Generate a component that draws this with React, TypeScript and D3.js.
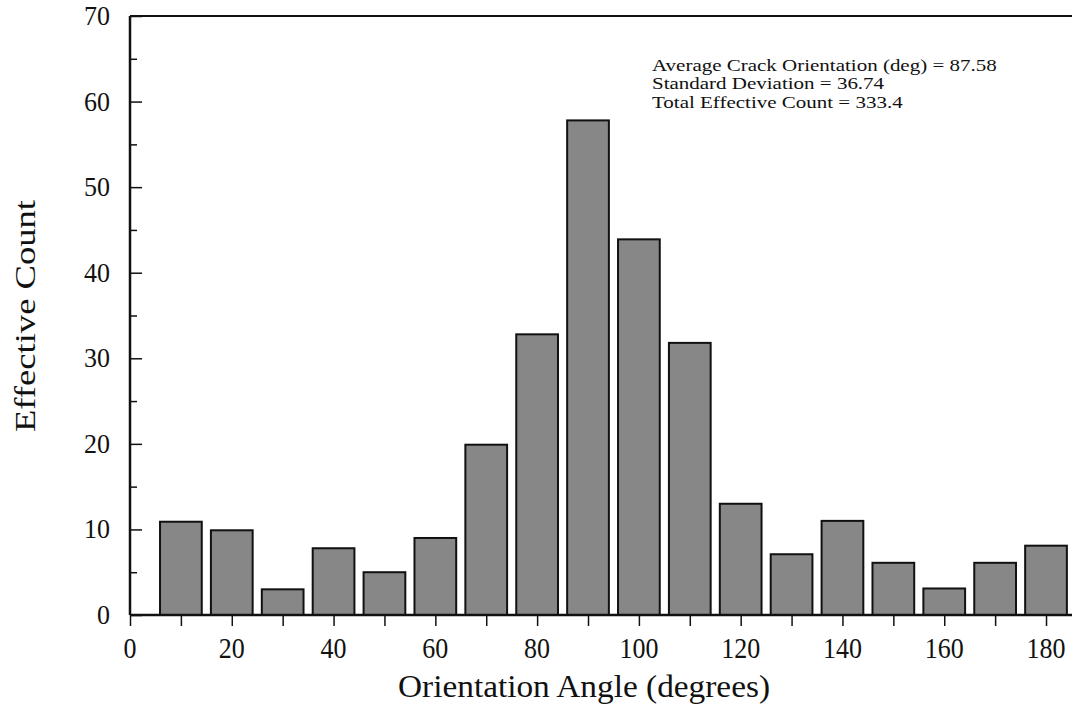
import React, { useRef, useEffect } from 'react';
import * as d3 from 'd3';

const angles = [10, 20, 30, 40, 50, 60, 70, 80, 90, 100, 110, 120, 130, 140, 150, 160, 170, 180];
const counts = [10.9, 9.9, 3.0, 7.8, 5.0, 9.0, 19.9, 32.8, 57.8, 43.9, 31.8, 13.0, 7.1, 11.0, 6.1, 3.1, 6.1, 8.1];
const xTickLabels = [0, 20, 40, 60, 80, 100, 120, 140, 160, 180];
const yTickLabels = [0, 10, 20, 30, 40, 50, 60, 70];
const statLines = [
  'Average Crack Orientation (deg) = 87.58',
  'Standard Deviation = 36.74',
  'Total Effective Count = 333.4',
];

const W = 1072;
const H = 715;
const font = '"Liberation Serif", "Times New Roman", serif';

const App: React.FC = () => {
  const ref = useRef<SVGSVGElement>(null);

  useEffect(() => {
    const svg = d3.select(ref.current);
    svg.selectAll('*').remove();

    const x = d3.scaleLinear().domain([0, 186]).range([130, 130 + 186 * 5.089]);
    const y = d3.scaleLinear().domain([0, 70]).range([615, 16]);
    const halfW = 4.1; // half bar width in degrees

    // bars
    svg.append('g')
      .selectAll('rect')
      .data(angles.map((a, i) => ({ a, v: counts[i] })))
      .join('rect')
      .attr('x', d => x(d.a - halfW))
      .attr('y', d => y(d.v))
      .attr('width', x(2 * halfW) - x(0))
      .attr('height', d => y(0) - y(d.v))
      .attr('fill', '#878787')
      .attr('stroke', '#111')
      .attr('stroke-width', 2);

    // y axis, ticks inward
    const yAxis = d3.axisRight(y)
      .tickValues(d3.range(0, 71, 5))
      .tickSize(0)
      .tickFormat(() => '');
    const gy = svg.append('g').attr('transform', `translate(${x(0)},0)`).call(yAxis);
    gy.select('.domain').remove();
    gy.selectAll('.tick line')
      .attr('x2', (d: any) => (d % 10 === 0 ? 12 : 7))
      .attr('stroke', '#111')
      .attr('stroke-width', 1.5);
    svg.append('g')
      .selectAll('text')
      .data(yTickLabels)
      .join('text')
      .attr('transform', d => `translate(110,${y(d) + 9}) scale(1,1.08)`)
      .attr('text-anchor', 'end')
      .attr('font-family', font)
      .attr('font-size', 26)
      .attr('fill', '#111')
      .text(d => d);

    // x axis, ticks outward
    const xAxis = d3.axisBottom(x)
      .tickValues(d3.range(0, 181, 10))
      .tickSize(11)
      .tickFormat(() => '');
    const gx = svg.append('g').attr('transform', `translate(0,${y(0)})`).call(xAxis);
    gx.select('.domain').remove();
    gx.selectAll('.tick line').attr('stroke', '#111').attr('stroke-width', 1.5);
    svg.append('g')
      .selectAll('text')
      .data(xTickLabels)
      .join('text')
      .attr('transform', d => `translate(${x(d)},658) scale(1,1.12)`)
      .attr('text-anchor', 'middle')
      .attr('font-family', font)
      .attr('font-size', 26)
      .attr('fill', '#111')
      .text(d => d);

    // frame lines
    svg.append('line')
      .attr('x1', x(0)).attr('x2', W)
      .attr('y1', y(0)).attr('y2', y(0))
      .attr('stroke', '#111').attr('stroke-width', 2.5);
    svg.append('line')
      .attr('x1', x(0)).attr('x2', W)
      .attr('y1', y(70)).attr('y2', y(70))
      .attr('stroke', '#111').attr('stroke-width', 2);
    svg.append('line')
      .attr('x1', x(0)).attr('x2', x(0))
      .attr('y1', y(70)).attr('y2', y(0))
      .attr('stroke', '#111').attr('stroke-width', 2.5);

    // axis titles
    svg.append('text')
      .attr('x', 584)
      .attr('y', 697)
      .attr('text-anchor', 'middle')
      .attr('font-family', font)
      .attr('font-size', 31)
      .attr('textLength', 372)
      .attr('lengthAdjust', 'spacingAndGlyphs')
      .attr('fill', '#111')
      .text('Orientation Angle (degrees)');
    svg.append('text')
      .attr('transform', `translate(35,316) rotate(-90)`)
      .attr('text-anchor', 'middle')
      .attr('font-family', font)
      .attr('font-size', 30)
      .attr('textLength', 232)
      .attr('lengthAdjust', 'spacingAndGlyphs')
      .attr('fill', '#111')
      .text('Effective Count');

    // stats
    svg.append('g')
      .attr('transform', 'translate(652,71) scale(1.2,1)')
      .selectAll('text')
      .data(statLines)
      .join('text')
      .attr('x', 0)
      .attr('y', (d, i) => i * 18.5)
      .attr('font-family', font)
      .attr('font-size', 17.5)
      .attr('fill', '#111')
      .text(d => d);
  }, []);

  return (
    <svg ref={ref} width={W} height={H}
      style={{ position: 'absolute', left: 0, top: 0, background: '#fff' }} />
  );
};

export default App;
